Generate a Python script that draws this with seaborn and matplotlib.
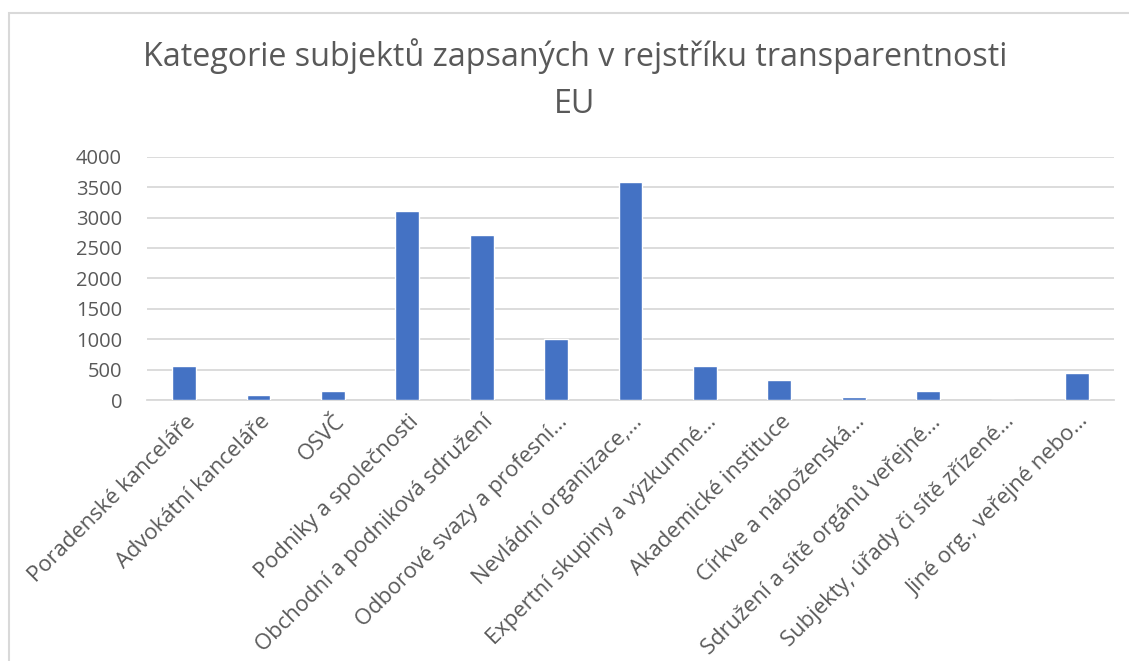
import matplotlib
matplotlib.use("Agg")
import matplotlib.pyplot as plt
import matplotlib.transforms as mtransforms
from matplotlib.patches import Rectangle
import seaborn as sns
import pandas as pd

categories = [
    "Poradenské kanceláře",
    "Advokátní kanceláře",
    "OSVČ",
    "Podniky a společnosti",
    "Obchodní a podniková sdružení",
    "Odborové svazy a profesní…",
    "Nevládní organizace,…",
    "Expertní skupiny a výzkumné…",
    "Akademické instituce",
    "Církve a náboženská…",
    "Sdružení a sítě orgánů veřejné…",
    "Subjekty, úřady či sítě zřízené…",
    "Jiné org., veřejné nebo…",
]
values = [560, 80, 150, 3100, 2720, 1000, 3580, 560, 325, 45, 150, 2, 450]
title = "Kategorie subjektů zapsaných v rejstříku transparentnosti\nEU"
yticks = [0, 500, 1000, 1500, 2000, 2500, 3000, 3500, 4000]

df = pd.DataFrame({"kategorie": categories, "pocet": values})

sns.set_theme(style="white")
plt.rcParams["font.family"] = ["Open Sans", "DejaVu Sans"]

W, H = 1129, 661
fig = plt.figure(figsize=(W / 100, H / 100), dpi=100)
ax = fig.add_axes([147 / W, 1 - 400 / H, (1114 - 147) / W, (400 - 156.7) / H])

sns.barplot(data=df, x="kategorie", y="pocet", color="#4472C4", width=0.32,
            saturation=1, ax=ax, zorder=3)

ax.set_xlim(-0.5, len(categories) - 0.5)
ax.set_ylim(0, 4000)
ax.set_yticks(yticks)
ax.set_yticklabels([str(t) for t in yticks])
ax.yaxis.grid(True, color="#d9d9d9", linewidth=1.3, zorder=0)
ax.set_axisbelow(True)
for s in ["left", "right", "top"]:
    ax.spines[s].set_visible(False)
ax.spines["bottom"].set_color("#d9d9d9")
ax.spines["bottom"].set_linewidth(1.3)
ax.set_xlabel("")
ax.set_ylabel("")
ax.tick_params(axis="y", length=0, pad=18, labelsize=14.5, labelcolor="#595959")
ax.tick_params(axis="x", length=0, pad=8, labelsize=15.8, labelcolor="#595959")

ax.set_xticks(range(len(categories)))
ax.set_xticklabels(categories, rotation=45, ha="right", va="top", rotation_mode="anchor")
offset = mtransforms.ScaledTranslation(1 / 100, 0, fig.dpi_scale_trans)
for lab in ax.get_xticklabels():
    lab.set_transform(lab.get_transform() + offset)

fig.text(575 / W, 1 - 113 / H, title, ha="center", va="baseline", fontsize=23.2,
         color="#595959", linespacing=1.55)

fig.patches.append(Rectangle((9 / W, -0.1), 1.2, 1 - 13 / H + 0.1, transform=fig.transFigure,
                             fill=False, edgecolor="#d9d9d9", linewidth=1.5))

fig.savefig("out.png", dpi=100)
